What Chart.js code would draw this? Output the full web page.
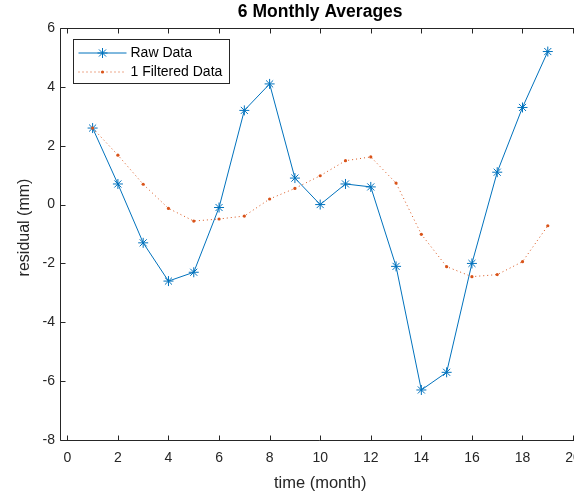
<!DOCTYPE html>
<html>
<head>
<meta charset="utf-8">
<script src="https://cdn.jsdelivr.net/npm/chart.js@4/dist/chart.umd.min.js"></script>
<style>
  html, body { margin: 0; padding: 0; background: #fff; overflow: hidden; }
</style>
</head>
<body>
<canvas id="myChart" width="591" height="494"></canvas>
<script>
// monthly residuals, raw and filtered
const months = [1, 2, 3, 4, 5, 6, 7, 8, 9, 10, 11, 12, 13, 14, 15, 16, 17, 18, 19];
const rawData = [2.6, 0.7, -1.3, -2.6, -2.3, -0.1, 3.2, 4.1, 0.9, 0.0, 0.7, 0.6, -2.1, -6.3, -5.7, -2.0, 1.1, 3.3, 5.2];
const filteredData = [2.6, 1.68, 0.69, -0.13, -0.56, -0.49, -0.39, 0.19, 0.55, 0.98, 1.49, 1.62, 0.73, -1.01, -2.11, -2.45, -2.38, -1.94, -0.72];
const xTicks = [0, 2, 4, 6, 8, 10, 12, 14, 16, 18, 20];
const yTicks = [-8, -6, -4, -2, 0, 2, 4, 6];
const yLabel = 'residual (mm)';

const axisColor = '#262626';
const fontFamily = "'Liberation Sans', Arial, sans-serif";
Chart.defaults.font.family = fontFamily;

const toPoints = (vals) => months.map((m, i) => ({x: m, y: vals[i]}));

// left/top/bottom axis lines with inward tick marks, plus the y axis label
const axesFrame = {
    id: 'axesFrame',
    afterDraw(chart) {
        const {ctx, chartArea: a, scales: {x, y}} = chart;
        const l = Math.round(a.left) - 0.5, t = Math.round(a.top) + 0.5, b = Math.round(a.bottom) + 0.5, r = Math.round(a.right);
        ctx.save();
        ctx.strokeStyle = axisColor;
        ctx.lineWidth = 1;
        ctx.beginPath();
        ctx.moveTo(r, t); ctx.lineTo(l, t); ctx.lineTo(l, b); ctx.lineTo(r, b);
        xTicks.forEach(v => {
            const px = Math.round(x.getPixelForValue(v)) + 0.5;
            ctx.moveTo(px, b); ctx.lineTo(px, b - 5);
            ctx.moveTo(px, t); ctx.lineTo(px, t + 5);
        });
        yTicks.forEach(v => {
            const py = Math.round(y.getPixelForValue(v)) + 0.5;
            ctx.moveTo(l, py); ctx.lineTo(l + 5, py);
        });
        ctx.stroke();

        // y label sits a little above the middle of the axis
        ctx.translate(25, (a.top + a.bottom) / 2 - 6.5);
        ctx.rotate(-Math.PI / 2);
        ctx.fillStyle = axisColor;
        ctx.font = '16px ' + fontFamily;
        ctx.textAlign = 'center';
        ctx.textBaseline = 'middle';
        ctx.fillText(yLabel, 0, 0);
        ctx.restore();
    }
};

// legend box in the upper left corner, line sample with the marker in the middle
const legendBox = {
    id: 'legendBox',
    afterDraw(chart) {
        const {ctx, chartArea: a} = chart;
        const bx = Math.round(a.left) + 12.5, by = Math.round(a.top) + 11.5, bw = 156, bh = 44;
        ctx.save();
        ctx.fillStyle = '#fff';
        ctx.fillRect(bx, by, bw, bh);
        ctx.strokeStyle = axisColor;
        ctx.lineWidth = 1;
        ctx.strokeRect(bx, by, bw, bh);
        chart.data.datasets.forEach((ds, i) => {
            const cy = by + 13.5 + i * 19;
            ctx.strokeStyle = ds.borderColor;
            ctx.fillStyle = ds.pointBackgroundColor || ds.borderColor;
            ctx.lineWidth = ds.borderWidth;
            ctx.setLineDash(ds.borderDash || []);
            ctx.beginPath();
            ctx.moveTo(bx + 5, cy);
            ctx.lineTo(bx + 53, cy);
            ctx.stroke();
            ctx.setLineDash([]);
            Chart.helpers.drawPoint(ctx, {
                pointStyle: ds.pointStyle,
                radius: ds.pointRadius,
                borderWidth: ds.pointBorderWidth,
                rotation: 0
            }, bx + 29, cy);
            ctx.fillStyle = '#000';
            ctx.font = '14px ' + fontFamily;
            ctx.textBaseline = 'middle';
            ctx.fillText(ds.label, bx + 57, cy + 0.5);
        });
        ctx.restore();
    }
};

const ctx = document.getElementById('myChart').getContext('2d');
const myChart = new Chart(ctx, {
    type: 'line',
    data: {
        datasets: [{
            label: 'Raw Data',
            data: toPoints(rawData),
            borderColor: '#0072BD',
            backgroundColor: '#0072BD',
            borderWidth: 1,
            pointStyle: 'star',
            pointRadius: 5,
            pointBorderWidth: 1,
            pointBorderColor: '#0072BD',
            tension: 0,
            order: 1
        }, {
            label: '1 Filtered Data',
            data: toPoints(filteredData),
            borderColor: '#D95319',
            backgroundColor: '#D95319',
            borderWidth: 1,
            borderDash: [1, 3],
            pointStyle: 'circle',
            pointRadius: 1.6,
            pointBorderWidth: 0,
            pointBackgroundColor: '#D95319',
            tension: 0,
            order: 0
        }]
    },
    options: {
        responsive: false,
        animation: false,
        devicePixelRatio: 1,
        layout: { padding: 0 },
        scales: {
            x: {
                type: 'linear',
                min: -0.25,
                max: 20.25,
                afterFit: s => { s.height = 54; },
                afterBuildTicks: s => { s.ticks = xTicks.map(v => ({value: v})); },
                grid: { display: false, drawTicks: false },
                border: { display: false },
                ticks: { padding: 10, color: axisColor, font: { size: 14 }, maxRotation: 0 },
                title: { display: true, text: 'time (month)', color: axisColor, font: { size: 16.5 }, padding: { top: 0, bottom: 1 } }
            },
            y: {
                min: -8,
                max: 6,
                afterFit: s => { s.width = 61; },
                afterBuildTicks: s => { s.ticks = yTicks.map(v => ({value: v})); },
                grid: { display: false, drawTicks: false },
                border: { display: false },
                ticks: { padding: 6, color: axisColor, font: { size: 14 } }
            }
        },
        plugins: {
            title: {
                display: true,
                fullSize: false, // centred over the plot area, not the whole canvas
                text: '6 Monthly Averages',
                color: '#000',
                font: { size: 17.5, weight: 'bold' },
                padding: { top: 2, bottom: 5 }
            },
            legend: { display: false },
            tooltip: { enabled: false }
        }
    },
    plugins: [axesFrame, legendBox]
});
</script>
</body>
</html>
